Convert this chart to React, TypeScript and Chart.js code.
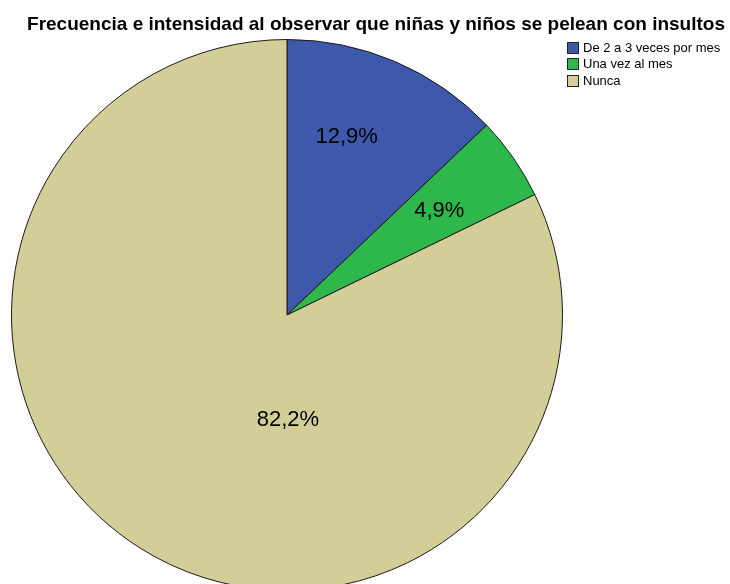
import React, { useEffect, useRef } from "react";
import { Chart, registerables } from "chart.js";

Chart.register(...registerables);

const TITLE = "Frecuencia e intensidad al observar que niñas y niños se pelean con insultos";
const CATEGORIES = ["De 2 a 3 veces por mes", "Una vez al mes", "Nunca"];
const PERCENTS = [12.9, 4.9, 82.2];
const LABELS = ["12,9%", "4,9%", "82,2%"];
const COLORS = ["#3E58AC", "#2EB84B", "#D3CE98"];
// label placement within each slice: [fraction of slice angle, fraction of radius]
const LABEL_POS = [
  [0.4, 0.68],
  [0.52, 0.67],
  [0.39, 0.38],
];

const overlay = {
  id: "overlay",
  afterDatasetsDraw(chart: any) {
    const ctx = chart.ctx;
    ctx.save();
    // title
    ctx.fillStyle = "#000";
    ctx.font = "bold 19px 'Liberation Sans', Arial, sans-serif";
    ctx.textAlign = "center";
    ctx.textBaseline = "alphabetic";
    ctx.fillText(TITLE, 376, 30);

    // slice labels
    const meta = chart.getDatasetMeta(0);
    ctx.font = "22px 'Liberation Sans', Arial, sans-serif";
    ctx.textAlign = "center";
    ctx.textBaseline = "middle";
    meta.data.forEach((arc: any, i: number) => {
      const p = arc.getProps(["x", "y", "startAngle", "endAngle", "outerRadius"], true);
      const [fa, fr] = LABEL_POS[i];
      const a = p.startAngle + (p.endAngle - p.startAngle) * fa;
      const r = p.outerRadius * fr;
      ctx.fillText(LABELS[i], p.x + Math.cos(a) * r, p.y + Math.sin(a) * r);
    });

    // legend
    ctx.font = "13px 'Liberation Sans', Arial, sans-serif";
    ctx.textAlign = "left";
    ctx.textBaseline = "middle";
    CATEGORIES.forEach((c, i) => {
      const y = Math.round(42 + i * 16.3);
      ctx.fillStyle = COLORS[i];
      ctx.fillRect(567.5, y + 0.5, 11, 11);
      ctx.strokeStyle = "#222";
      ctx.lineWidth = 1;
      ctx.strokeRect(567.5, y + 0.5, 11, 11);
      ctx.fillStyle = "#000";
      ctx.fillText(c, 583, y + 6.5);
    });
    ctx.restore();
  },
};

export default function App() {
  const ref = useRef<HTMLCanvasElement>(null);
  useEffect(() => {
    if (!ref.current) return;
    const chart = new Chart(ref.current, {
      type: "pie",
      data: {
        labels: CATEGORIES,
        datasets: [
          {
            data: PERCENTS,
            backgroundColor: COLORS,
            borderColor: "#1a1a1a",
            borderWidth: 1,
          },
        ],
      },
      options: {
        animation: false,
        responsive: false,
        maintainAspectRatio: false,
        layout: { padding: { left: 11, right: 167, top: 39, bottom: 9 } },
        plugins: {
          legend: { display: false },
          title: { display: false },
          tooltip: { enabled: false },
        },
      },
      plugins: [overlay],
    });
    return () => chart.destroy();
  }, []);
  return (
    <div style={{ position: "absolute", left: 0, top: 0, width: 730, height: 600, background: "#fff" }}>
      <canvas ref={ref} width={730} height={600} style={{ width: 730, height: 600 }} />
    </div>
  );
}
